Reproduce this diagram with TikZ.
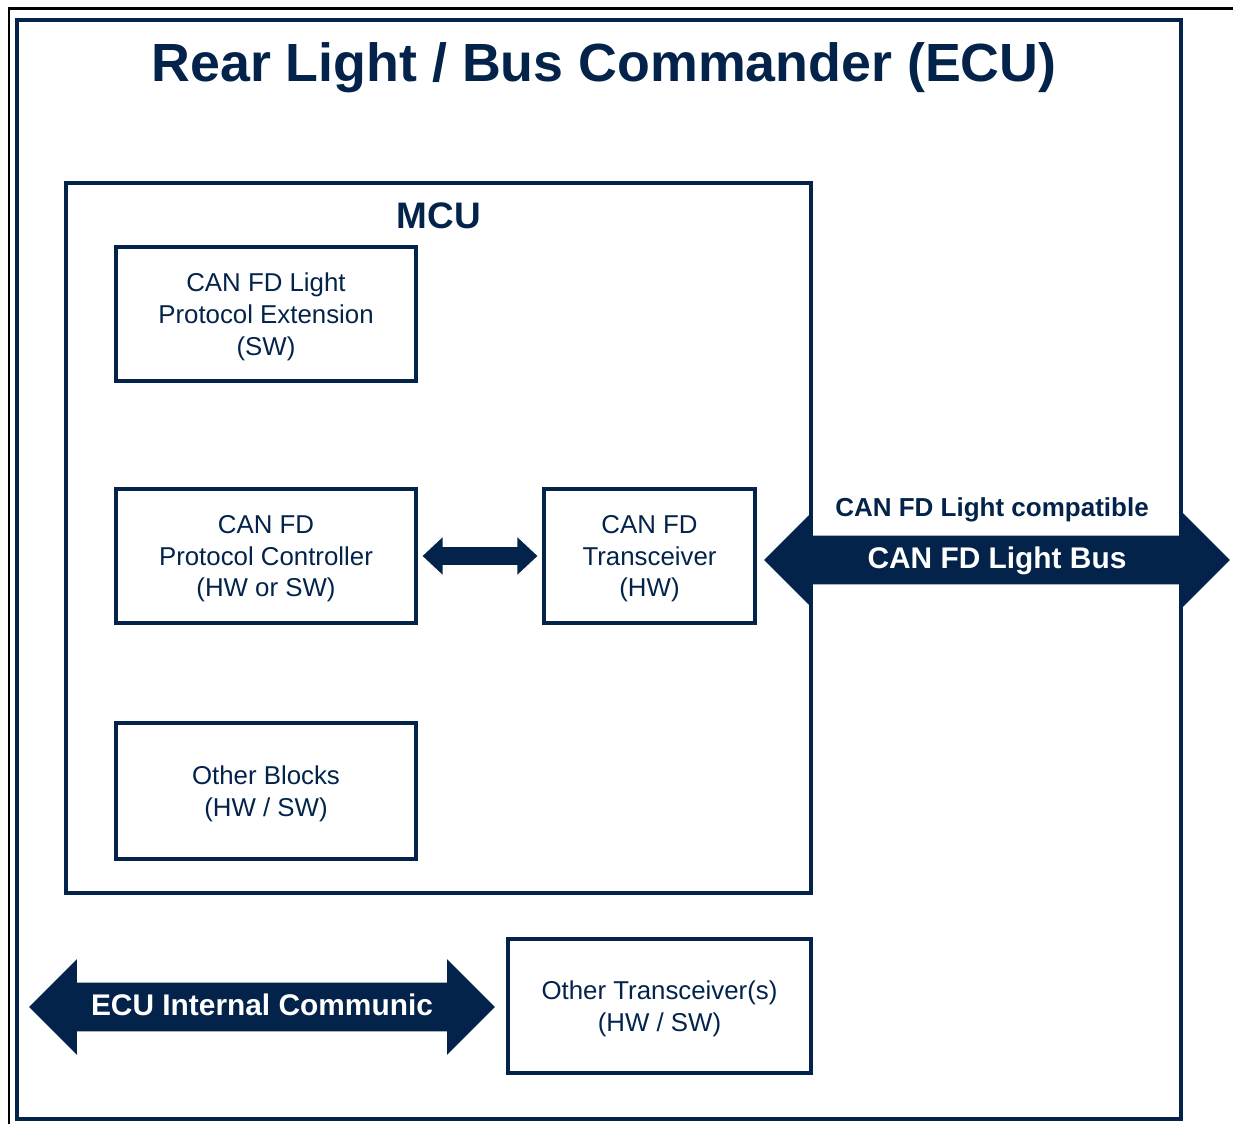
\documentclass[tikz,border=0pt]{standalone}
\usepackage{fontspec}
\setmainfont{Liberation Sans}
\usepackage{xcolor}
\definecolor{azulNoche}{RGB}{3,35,75}
\usepackage{tikz}
\usetikzlibrary{arrows.meta,shapes.arrows,positioning}
\tikzstyle{frame} =[draw=azulNoche, line width=2pt]
\tikzstyle{block} =[draw=azulNoche, line width=1.8pt, text=azulNoche,
                    align=center, inner sep=0pt, minimum height=2.68cm,
                    text depth=0pt,
                    font=\fontsize{14.7}{18.2}\selectfont]
\tikzstyle{wlink} =[azulNoche, line width=0.38cm,
                    >={Triangle[length=0.4cm,width=0.72cm]},
                    shorten <=0.1cm, shorten >=0.1cm]
\tikzstyle{busarrow}=[double arrow, fill=azulNoche, text=white,
                    minimum height=9.32cm, minimum width=1.9cm,
                    double arrow head extend=0.47cm, inner xsep=0pt,
                    inner ysep=0.21cm, text height=0.44cm, text depth=0.1cm,
                    font=\bfseries\fontsize{17}{17}\selectfont]

\begin{document}
\begin{tikzpicture}[x=0.02cm,y=-0.02cm]
    \useasboundingbox (0,0) rectangle (1233,1124);
    \draw [black, line width=1.7pt] (1233,9) -- (9,9) -- (9,1124);

    \draw [frame] (17,20) rectangle (1181,1119);
    \draw (604,82) node (titulo) [anchor=base, text=azulNoche,
        font=\bfseries\fontsize{30.6}{31}\selectfont] {Rear Light / Bus Commander (ECU)};

    \draw [frame] (66,183) rectangle (811,893);
    \draw (439,229) node (mcu) [anchor=base, text=azulNoche,
        font=\bfseries\fontsize{21}{21}\selectfont] {MCU};

    \draw (266,314) node (ext) [block,minimum width=6cm] {CAN FD Light\\Protocol Extension\\(SW)};
    \draw (266,556) node (ctrl) [block,minimum width=6cm] {CAN FD\\Protocol Controller\\(HW or SW)};
    \draw (649.5,556) node (trx) [block,minimum width=4.22cm] {CAN FD\\Transceiver\\(HW)};
    \draw (266,791) node (otros) [block,minimum width=6cm,minimum height=2.72cm] {Other Blocks\\(HW / SW)};
    \draw (659.5,1006) node (otrostrx) [block,minimum width=6.06cm] {Other Transceiver(s)\\(HW / SW)};

    \draw [wlink,<->] (ctrl.east) to (trx.west);

    \draw (997,560) node (bus) [busarrow] {CAN FD Light Bus};
    \draw (992,517) node (compat) [anchor=base, text=azulNoche,
        font=\bfseries\fontsize{14.8}{14.8}\selectfont] {CAN FD Light compatible};
    \draw (262,1007) node (interna) [busarrow] {ECU Internal Communic};
\end{tikzpicture}
\end{document}
